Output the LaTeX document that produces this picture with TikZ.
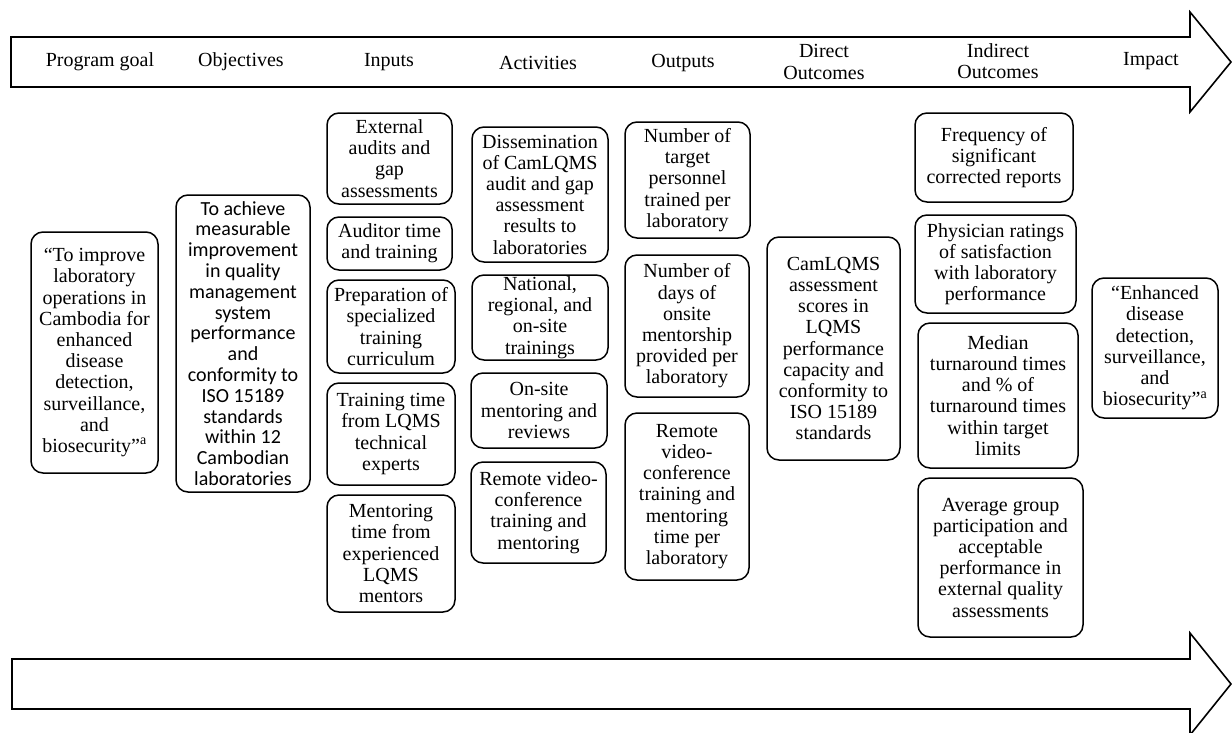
\documentclass[tikz,border=0pt]{standalone}
\usepackage{fontspec}
\setmainfont{Liberation Serif}
\newfontfamily\calibrifont{Carlito}
\tikzset{
  box/.style={draw=black, line width=1.5pt, rounded corners=12pt, inner sep=0pt, align=center, font=\fontsize{20}{21.2}\selectfont},
  lbl/.style={inner sep=0pt, align=center, font=\fontsize{20}{21.2}\selectfont},
  bigarrow/.style={draw=black, line width=1.6pt, fill=white, line join=miter}
}
\newcommand\rbox[6]{\node[box,minimum width={#4-#2},minimum height={#5-#3}] (#1) at ({(#2+#4)/2},{(#3+#5)/2}) {#6};}
\begin{document}
\begin{tikzpicture}[x=1pt,y=-1pt]
\useasboundingbox (0,0) rectangle (1232,732);
% top arrow
\draw[bigarrow] (11,37) -- (1190,37) -- (1190,12) -- (1231,62) -- (1190,112) -- (1190,87) -- (11,87) -- cycle;
% bottom arrow
\draw[bigarrow] (12,659) -- (1190,659) -- (1190,633) -- (1231,684) -- (1190,735) -- (1190,709) -- (12,709) -- cycle;
% header labels
\node[lbl] (hgoal) at (100,62) {Program goal};
\node[lbl] (hobj) at (241,62) {Objectives};
\node[lbl] (hin) at (389,62) {Inputs};
\node[lbl] (hact) at (538,63) {Activities};
\node[lbl] (hout) at (683,63) {Outputs};
\node[lbl] (hdir) at (824,62) {Direct\\Outcomes};
\node[lbl] (hind) at (998,61) {Indirect\\Outcomes};
\node[lbl] (himp) at (1151,61) {Impact};
% program goal
\rbox{goal}{31}{232}{158}{473}{``To improve\\laboratory\\operations in\\Cambodia for\\enhanced\\disease\\detection,\\surveillance,\\and\\biosecurity''\textsuperscript{a}}
% objectives
\node[box,minimum width=134,minimum height=297,font=\calibrifont\fontsize{20}{20.8}\selectfont] (obj) at (243,343.5) {To achieve\\measurable\\improvement\\in quality\\management\\system\\performance\\and\\conformity to\\ISO 15189\\standards\\within 12\\Cambodian\\laboratories};
% inputs
\rbox{in1}{327}{113}{452}{204}{External\\audits and\\gap\\assessments}
\rbox{in2}{327}{217}{452}{270}{Auditor time\\and training}
\rbox{in3}{327}{280}{455}{373}{Preparation of\\specialized\\training\\curriculum}
\rbox{in4}{327}{383}{455}{485}{Training time\\from LQMS\\technical\\experts}
\rbox{in5}{327}{495}{455}{612}{Mentoring\\time from\\experienced\\LQMS\\mentors}
% activities
\rbox{ac1}{472}{127}{608}{262}{Dissemination\\of CamLQMS\\audit and gap\\assessment\\results to\\laboratories}
\rbox{ac2}{472}{275}{608}{360}{National,\\regional, and\\on-site\\trainings}
\rbox{ac3}{471}{373}{607}{448}{On-site\\mentoring and\\reviews}
\rbox{ac4}{471}{462}{606}{563}{Remote video-\\conference\\training and\\mentoring}
% outputs
\rbox{ou1}{625}{122}{750}{238}{Number of\\target\\personnel\\trained per\\laboratory}
\rbox{ou2}{625}{255}{749}{397}{Number of\\days of\\onsite\\mentorship\\provided per\\laboratory}
\rbox{ou3}{625}{413}{749}{580}{Remote\\video-\\conference\\training and\\mentoring\\time per\\laboratory}
% direct outcomes
\rbox{dir}{767}{237}{900}{460}{CamLQMS\\assessment\\scores in\\LQMS\\performance\\capacity and\\conformity to\\ISO 15189\\standards}
% indirect outcomes
\rbox{id1}{915}{113}{1073}{202}{Frequency of\\significant\\corrected reports}
\rbox{id2}{915}{215}{1076}{313}{Physician ratings\\of satisfaction\\with laboratory\\performance}
\rbox{id3}{918}{323}{1078}{468}{Median\\turnaround times\\and \% of\\turnaround times\\within target\\limits}
\rbox{id4}{918}{478}{1083}{637}{Average group\\participation and\\acceptable\\performance in\\external quality\\assessments}
% impact
\rbox{imp}{1092}{278}{1218}{418}{``Enhanced\\disease\\detection,\\surveillance,\\and\\biosecurity''\textsuperscript{a}}
\end{tikzpicture}
\end{document}
